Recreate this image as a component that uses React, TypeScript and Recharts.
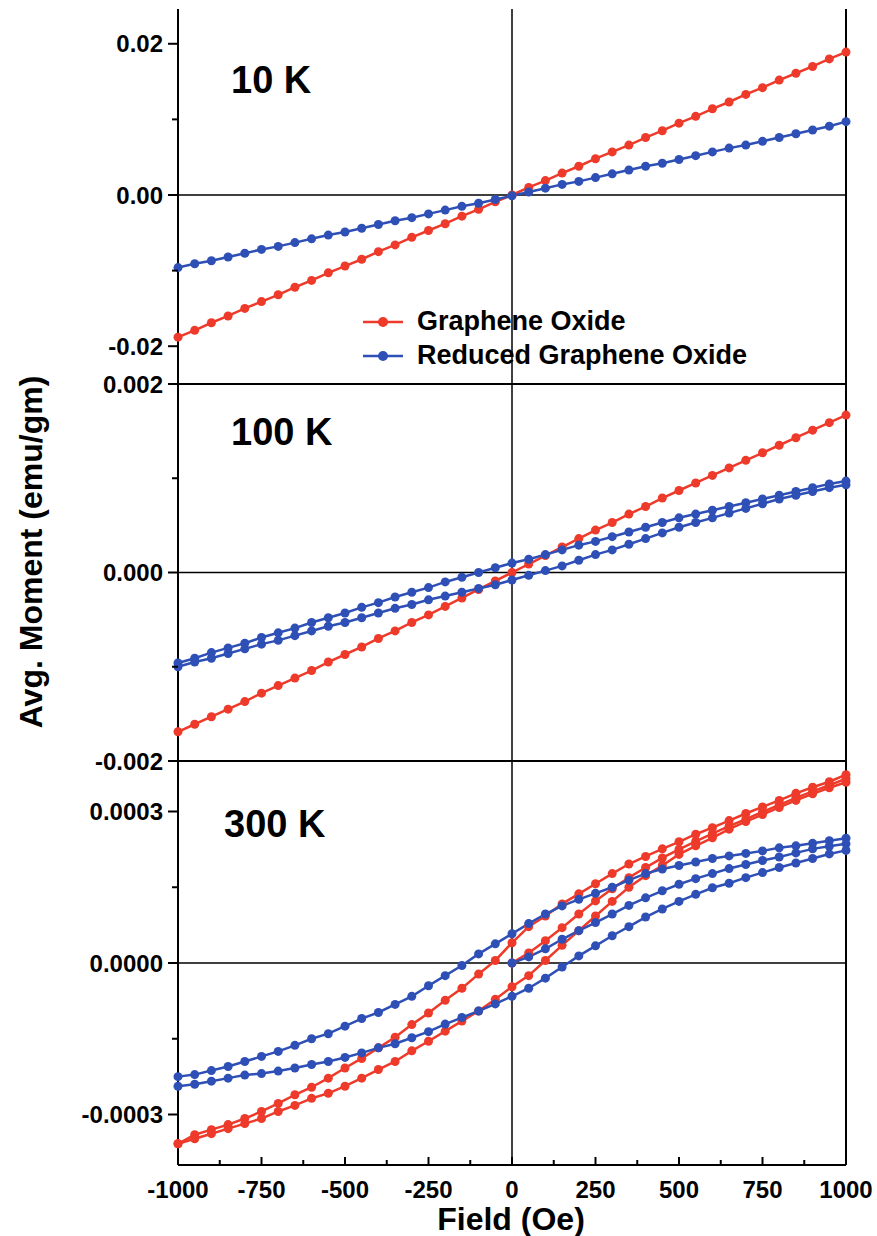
import { LineChart, Line, XAxis, YAxis, ReferenceLine } from 'recharts'

const FONT = '"Liberation Sans", Arial, sans-serif'
const RED = '#ee3a2a'
const BLUE = '#2e50b6'

// field steps (Oe)
const FIELD = [
  -1000, -950, -900, -850, -800, -750, -700, -650, -600, -550, -500, -450, -400, -350, -300, -250, -200, -150, -100, -50,
  0, 50, 100, 150, 200, 250, 300, 350, 400, 450, 500, 550, 600, 650, 700, 750, 800, 850, 900, 950, 1000,
]
const FIELD_VIRGIN = [0, 50, 100, 150, 200, 250, 300, 350, 400, 450, 500, 550, 600, 650, 700, 750, 800, 850, 900, 950, 1000]

// 10 K
const GO_10K = [
  -0.0188, -0.0179, -0.0169, -0.016, -0.015, -0.0141, -0.0132, -0.0122, -0.0113, -0.0103, -0.0094, -0.0085, -0.0075, -0.0066,
  -0.0056, -0.0047, -0.0038, -0.0028, -0.0019, -0.0009, 0.0, 0.001, 0.0019, 0.0029, 0.0038, 0.0048, 0.0057, 0.0066, 0.0076,
  0.0085, 0.0095, 0.0104, 0.0114, 0.0123, 0.0133, 0.0142, 0.0152, 0.0161, 0.017, 0.018, 0.0189,
]
const RGO_10K = [
  -0.0096, -0.0091, -0.0087, -0.0082, -0.0077, -0.0072, -0.0068, -0.0063, -0.0058, -0.0053, -0.0049, -0.0044, -0.0039, -0.0034,
  -0.003, -0.0025, -0.002, -0.0015, -0.0011, -0.0006, -0.0001, 0.0004, 0.0009, 0.0014, 0.0018, 0.0023, 0.0028, 0.0033, 0.0038,
  0.0042, 0.0047, 0.0052, 0.0057, 0.0062, 0.0066, 0.0071, 0.0076, 0.0081, 0.0086, 0.0091, 0.0097,
]

// 100 K
const GO_100K = [
  -0.00169, -0.00161, -0.00153, -0.00145, -0.00137, -0.00128, -0.0012, -0.00112, -0.00104, -0.00095, -0.00087, -0.00079,
  -0.0007, -0.00062, -0.00053, -0.00045, -0.00036, -0.00027, -0.00018, -0.00009, 0.0, 0.00009, 0.00018, 0.00027, 0.00036,
  0.00045, 0.00053, 0.00062, 0.0007, 0.00079, 0.00087, 0.00095, 0.00103, 0.00111, 0.00119, 0.00127, 0.00135, 0.00143,
  0.00151, 0.00159, 0.00167,
]
const RGO_100K_DOWN = [
  -0.00096, -0.00091, -0.00085, -0.0008, -0.00075, -0.00069, -0.00064, -0.00059, -0.00053, -0.00048, -0.00043, -0.00037,
  -0.00032, -0.00026, -0.00021, -0.00016, -0.0001, -0.00005, 0.0, 0.00005, 0.0001, 0.00014, 0.00019, 0.00024, 0.00029,
  0.00033, 0.00038, 0.00043, 0.00048, 0.00053, 0.00058, 0.00062, 0.00066, 0.0007, 0.00074, 0.00078, 0.00082, 0.00086,
  0.0009, 0.00094, 0.00097,
]
const RGO_100K_UP = [
  -0.001, -0.00095, -0.00091, -0.00086, -0.00081, -0.00076, -0.00072, -0.00067, -0.00062, -0.00057, -0.00053, -0.00048,
  -0.00043, -0.00038, -0.00034, -0.00029, -0.00025, -0.00021, -0.00017, -0.00013, -0.00008, -0.00003, 0.00002, 0.00007,
  0.00013, 0.00019, 0.00024, 0.0003, 0.00036, 0.00042, 0.00048, 0.00053, 0.00058, 0.00063, 0.00068, 0.00073, 0.00078,
  0.00082, 0.00086, 0.0009, 0.00093,
]

// 300 K
const GO_300K_VIRGIN = [
  0.0, 0.00002, 0.000044, 0.00007, 0.000097, 0.000123, 0.000147, 0.000169, 0.000189, 0.000208, 0.000225, 0.000241, 0.000256,
  0.000271, 0.000285, 0.000299, 0.000313, 0.000327, 0.00034, 0.000352, 0.000365,
]
const GO_300K_DOWN = [
  -0.000358, -0.00034, -0.00033, -0.00032, -0.000308, -0.000294, -0.000278, -0.000261, -0.000246, -0.000228, -0.000208,
  -0.000189, -0.000168, -0.000147, -0.000122, -0.000099, -0.000074, -0.00005, -0.000022, 0.000005, 0.00004, 0.000072,
  0.000093, 0.000117, 0.000137, 0.000157, 0.000177, 0.000196, 0.000211, 0.000226, 0.00024, 0.000255, 0.000268, 0.000282,
  0.000296, 0.000309, 0.000322, 0.000336, 0.000348, 0.000359, 0.000373,
]
const GO_300K_UP = [
  -0.000358, -0.000348, -0.000338, -0.000328, -0.000318, -0.000308, -0.000294, -0.000282, -0.000268, -0.000258, -0.000244,
  -0.000228, -0.000211, -0.000195, -0.000174, -0.000155, -0.000135, -0.000115, -0.000095, -0.000072, -0.000047, -0.000025,
  0.000005, 0.000035, 0.000064, 0.000093, 0.000122, 0.00015, 0.000173, 0.000193, 0.000215, 0.000232, 0.000248, 0.000265,
  0.00028, 0.000294, 0.000308, 0.000322, 0.000335, 0.000347, 0.000358,
]
const RGO_300K_VIRGIN = [
  0.0, 0.000012, 0.000028, 0.000047, 0.000064, 0.00008, 0.000097, 0.000114, 0.000129, 0.000143, 0.000156, 0.000167,
  0.000177, 0.000187, 0.000195, 0.000203, 0.00021, 0.000218, 0.000226, 0.000231, 0.000236,
]
const RGO_300K_DOWN = [
  -0.000225, -0.000221, -0.000213, -0.000205, -0.000195, -0.000185, -0.000175, -0.000163, -0.00015, -0.00014, -0.000125,
  -0.00011, -0.000098, -0.000082, -0.000066, -0.000045, -0.000025, -0.000005, 0.000018, 0.000038, 0.000058, 0.000078,
  0.000097, 0.000113, 0.000126, 0.000138, 0.00015, 0.000164, 0.000177, 0.000186, 0.000193, 0.0002, 0.000207, 0.000212,
  0.000217, 0.000222, 0.000228, 0.000232, 0.000237, 0.000242, 0.000247,
]
const RGO_300K_UP = [
  -0.000244, -0.00024, -0.000234, -0.000228, -0.000222, -0.000219, -0.000214, -0.000208, -0.000201, -0.000195, -0.000187,
  -0.000178, -0.000168, -0.00016, -0.000148, -0.000136, -0.000121, -0.000108, -0.000095, -0.000081, -0.000066, -0.00005,
  -0.00003, -0.000008, 0.000014, 0.000034, 0.000054, 0.000072, 0.000091, 0.000107, 0.000122, 0.000136, 0.000149, 0.000158,
  0.000169, 0.000179, 0.000189, 0.000198, 0.000207, 0.000216, 0.000223,
]

// axis ticks
const X_MAJOR = [-1000, -750, -500, -250, 0, 250, 500, 750, 1000]
const X_MINOR = [-875, -625, -375, -125, 125, 375, 625, 875]
const X_TOP = [-500, 500]

const Y10_MAJOR = [-0.02, 0, 0.02]
const Y10_MINOR = [-0.01, 0.01]
const Y100_MAJOR = [-0.002, 0, 0.002]
const Y100_MINOR = [-0.001, 0.001]
const Y300_MAJOR = [-0.0003, 0, 0.0003]
const Y300_MINOR = [-0.00015, 0.00015]

const LABELS = ['10 K', '100 K', '300 K']
const LEGEND = ['Graphene Oxide', 'Reduced Graphene Oxide']

type Series = { key: string; color: string; h: number[]; m: number[] }

const rows = (h: number[], m: number[]) => h.map((v, i) => ({ h: v, m: m[i] }))

interface PanelProps {
  top: number
  height: number
  mTop: number
  mBottom: number
  domain: [number, number]
  major: number[]
  minor: number[]
  digits: number
  series: Series[]
  edges: number[]
  topTicks?: boolean
  bottomAxis?: boolean
}

function Panel({ top, height, mTop, mBottom, domain, major, minor, digits, series, edges, topTicks, bottomAxis }: PanelProps) {
  const yTick = (p: any) => {
    const v = p.payload.value
    const isMajor = major.some((t) => Math.abs(t - v) < 1e-12)
    return (
      <g>
        <line x1={p.x - (isMajor ? 10 : 6)} x2={p.x} y1={p.y} y2={p.y} stroke="#000" strokeWidth={2} />
        {isMajor && (
          <text x={p.x - 15} y={p.y} dy="0.36em" textAnchor="end" fontSize={24} fontWeight="bold" fontFamily={FONT} fill="#000">
            {v.toFixed(digits)}
          </text>
        )}
      </g>
    )
  }

  const xTickBottom = (p: any) => {
    const v = p.payload.value
    const isMajor = X_MAJOR.includes(v)
    return (
      <g>
        <line x1={p.x} x2={p.x} y1={p.y} y2={p.y - (isMajor ? 8 : 5)} stroke="#000" strokeWidth={2} />
        {isMajor && (
          <text x={p.x} y={p.y + 33} textAnchor="middle" fontSize={24} fontWeight="bold" fontFamily={FONT} fill="#000">
            {v}
          </text>
        )}
      </g>
    )
  }

  const xTickTop = (p: any) => <line x1={p.x} x2={p.x} y1={p.y} y2={p.y + 6} stroke="#000" strokeWidth={2} />

  return (
    <div style={{ position: 'absolute', left: 0, top, width: 877, height }}>
      <LineChart width={877} height={height} margin={{ top: mTop, right: 31, bottom: mBottom, left: 0 }}>
        <XAxis
          xAxisId="b"
          type="number"
          dataKey="h"
          domain={[-1000, 1000]}
          ticks={[...X_MAJOR, ...X_MINOR].sort((a, b) => a - b)}
          interval={0}
          hide={!bottomAxis}
          height={1}
          tickSize={0}
          tickMargin={0}
          tickLine={false}
          axisLine={{ stroke: '#000', strokeWidth: 2 }}
          tick={xTickBottom}
        />
        {topTicks && (
          <XAxis
            xAxisId="t"
            orientation="top"
            type="number"
            domain={[-1000, 1000]}
            ticks={X_TOP}
            interval={0}
            height={1}
            tickSize={0}
            tickMargin={0}
            tickLine={false}
            axisLine={false}
            tick={xTickTop}
          />
        )}
        <YAxis
          type="number"
          domain={domain}
          ticks={[...major, ...minor].sort((a, b) => a - b)}
          interval={0}
          width={178}
          tickSize={0}
          tickMargin={0}
          tickLine={false}
          axisLine={{ stroke: '#000', strokeWidth: 2 }}
          tick={yTick}
        />
        {edges.map((e) => (
          <ReferenceLine key={`e${e}`} xAxisId="b" y={e} stroke="#000" strokeWidth={2} ifOverflow="visible" />
        ))}
        <ReferenceLine xAxisId="b" x={1000} stroke="#000" strokeWidth={2} ifOverflow="visible" />
        <ReferenceLine xAxisId="b" x={0} stroke="#000" strokeWidth={1.5} ifOverflow="visible" />
        <ReferenceLine xAxisId="b" y={0} stroke="#000" strokeWidth={1.5} ifOverflow="visible" />
        {series.map((s) => (
          <Line
            key={s.key}
            xAxisId="b"
            data={rows(s.h, s.m)}
            dataKey="m"
            type="linear"
            stroke={s.color}
            strokeWidth={2.5}
            dot={{ r: 4.5, fill: s.color, stroke: s.color, strokeWidth: 0 }}
            isAnimationActive={false}
          />
        ))}
      </LineChart>
    </div>
  )
}

export default function App() {
  const s10: Series[] = [
    { key: 'go', color: RED, h: FIELD, m: GO_10K },
    { key: 'rgo', color: BLUE, h: FIELD, m: RGO_10K },
  ]
  const s100: Series[] = [
    { key: 'go', color: RED, h: FIELD, m: GO_100K },
    { key: 'rgoD', color: BLUE, h: FIELD, m: RGO_100K_DOWN },
    { key: 'rgoU', color: BLUE, h: FIELD, m: RGO_100K_UP },
  ]
  const s300: Series[] = [
    { key: 'goV', color: RED, h: FIELD_VIRGIN, m: GO_300K_VIRGIN },
    { key: 'goD', color: RED, h: FIELD, m: GO_300K_DOWN },
    { key: 'goU', color: RED, h: FIELD, m: GO_300K_UP },
    { key: 'rgoV', color: BLUE, h: FIELD_VIRGIN, m: RGO_300K_VIRGIN },
    { key: 'rgoD', color: BLUE, h: FIELD, m: RGO_300K_DOWN },
    { key: 'rgoU', color: BLUE, h: FIELD, m: RGO_300K_UP },
  ]

  return (
    <div style={{ position: 'absolute', left: 0, top: 0, width: 877, height: 1236, background: '#fff', overflow: 'hidden' }}>
      <Panel
        top={0}
        height={414}
        mTop={9}
        mBottom={30}
        domain={[-0.025, 0.0246]}
        major={Y10_MAJOR}
        minor={Y10_MINOR}
        digits={2}
        series={s10}
        edges={[-0.025]}
      />
      <Panel
        top={353}
        height={438}
        mTop={30}
        mBottom={30}
        domain={[-0.002, 0.002]}
        major={Y100_MAJOR}
        minor={Y100_MINOR}
        digits={3}
        series={s100}
        edges={[0.002, -0.002]}
        topTicks
      />
      <Panel
        top={730}
        height={506}
        mTop={30}
        mBottom={70}
        domain={[-0.0004, 0.0004]}
        major={Y300_MAJOR}
        minor={Y300_MINOR}
        digits={4}
        series={s300}
        edges={[0.0004]}
        topTicks
        bottomAxis
      />
      <svg width={877} height={1236} style={{ position: 'absolute', left: 0, top: 0, pointerEvents: 'none' }}>
        <g fontFamily={FONT} fontWeight="bold" fill="#000">
          <text x={231} y={93} fontSize={38}>{LABELS[0]}</text>
          <text x={231} y={445} fontSize={38}>{LABELS[1]}</text>
          <text x={224} y={837} fontSize={38}>{LABELS[2]}</text>
          <text x={511} y={1230} fontSize={32} textAnchor="middle">Field (Oe)</text>
          <text transform="translate(42,552) rotate(-90)" fontSize={32} textAnchor="middle">Avg. Moment (emu/gm)</text>
        </g>
        <g>
          <line x1={363} x2={403} y1={322} y2={322} stroke={RED} strokeWidth={2.5} />
          <circle cx={383} cy={322} r={5} fill={RED} />
          <line x1={363} x2={403} y1={356} y2={356} stroke={BLUE} strokeWidth={2.5} />
          <circle cx={383} cy={356} r={5} fill={BLUE} />
          <text x={417} y={330} fontSize={27} fontWeight="bold" fontFamily={FONT} fill="#000">{LEGEND[0]}</text>
          <text x={417} y={364} fontSize={27} fontWeight="bold" fontFamily={FONT} fill="#000">{LEGEND[1]}</text>
        </g>
      </svg>
    </div>
  )
}
